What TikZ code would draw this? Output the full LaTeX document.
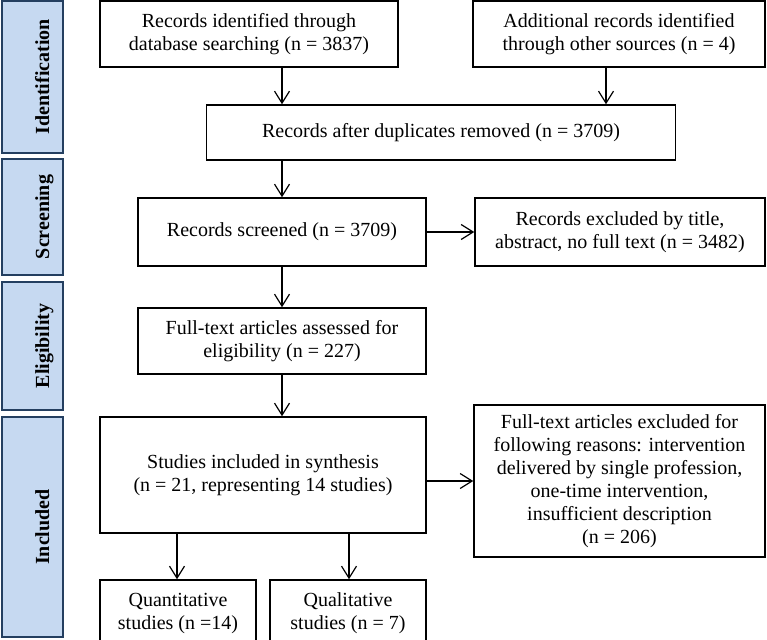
\documentclass[tikz,border=0pt]{standalone}
\usepackage{fontspec}
\setmainfont{Liberation Serif}
\usetikzlibrary{arrows.meta}
\definecolor{sidefill}{HTML}{C6D9F1}
\definecolor{sidebd}{HTML}{243F60}
\begin{document}
\begin{tikzpicture}[x=1pt,y=-1pt,
  box/.style={draw=black, line width=1.5pt, inner sep=0pt, align=center,
    font=\fontsize{20}{23}\selectfont},
  side/.style={draw=sidebd, fill=sidefill, line width=1.8pt, inner sep=0pt},
  sidetext/.style={rotate=90, anchor=base, inner sep=0pt,
    font=\fontsize{20}{23}\selectfont\bfseries},
  arr/.style={line width=1.2pt, -{Straight Barb[length=12pt,width=15pt,line width=1.2pt]}}]
\clip (0,0) rectangle (767,639);
\useasboundingbox (0,0) rectangle (767,639);

% side labels
\node[side, minimum width=61pt, minimum height=152pt] (sId) at (32.5,77) {};
\node[side, minimum width=61pt, minimum height=116pt] (sSc) at (32.5,217) {};
\node[side, minimum width=61pt, minimum height=128pt] (sEl) at (32.5,346) {};
\node[side, minimum width=61pt, minimum height=220pt] (sIn) at (32.5,527) {};
\node[sidetext] (tId) at (49,77) {Identification};
\node[sidetext] (tSc) at (49,217) {Screening};
\node[sidetext] (tEl) at (49,346) {Eligibility};
\node[sidetext] (tIn) at (49,527) {Included};

% main boxes
\node[box, minimum width=298pt, minimum height=66pt] (A) at (249,34)
  {Records identified through\\database searching (n = 3837)};
\node[box, minimum width=292pt, minimum height=66pt] (B) at (619,34)
  {Additional records identified\\through other sources (n = 4)};
\node[box, minimum width=469pt, minimum height=55pt] (C) at (441,132.5)
  {Records after duplicates removed (n = 3709)};
\node[box, minimum width=288pt, minimum height=68pt] (D) at (282,232)
  {Records screened (n = 3709)};
\node[box, minimum width=290pt, minimum height=68pt] (E) at (620,232)
  {Records excluded by title,\\abstract, no full text (n = 3482)};
\node[box, minimum width=288pt, minimum height=66pt] (F) at (282,341)
  {Full-text articles assessed for\\eligibility (n = 227)};
\node[box, minimum width=326pt, minimum height=116pt] (G) at (263,475)
  {Studies included in synthesis\\(n = 21, representing 14 studies)};
\node[box, minimum width=291pt, minimum height=152pt] (H) at (619.5,481)
  {Full-text articles excluded for\\following reasons: intervention\\delivered by single profession,\\one-time intervention,\\insufficient description\\(n = 206)};
\node[box, minimum width=156pt, minimum height=66pt] (I) at (178,613)
  {Quantitative\\studies (n =14)};
\node[box, minimum width=156pt, minimum height=66pt] (J) at (348,613)
  {Qualitative\\studies (n = 7)};

% connector columns
\coordinate (colL) at (282,0);
\coordinate (colR) at (606,0);
\coordinate (colI) at (177,0);
\coordinate (colJ) at (349,0);

\draw[arr] (colL |- A.south) -- (colL |- C.north);
\draw[arr] (colR |- B.south) -- (colR |- C.north);
\draw[arr] (colL |- C.south) -- (colL |- D.north);
\draw[arr] (D.east) -- (E.west);
\draw[arr] (colL |- D.south) -- (colL |- F.north);
\draw[arr] (colL |- F.south) -- (colL |- G.north);
\draw[arr] (G.east |- H.west) -- (H.west);
\draw[arr] (colI |- G.south) -- (colI |- I.north);
\draw[arr] (colJ |- G.south) -- (colJ |- J.north);
\end{tikzpicture}
\end{document}
